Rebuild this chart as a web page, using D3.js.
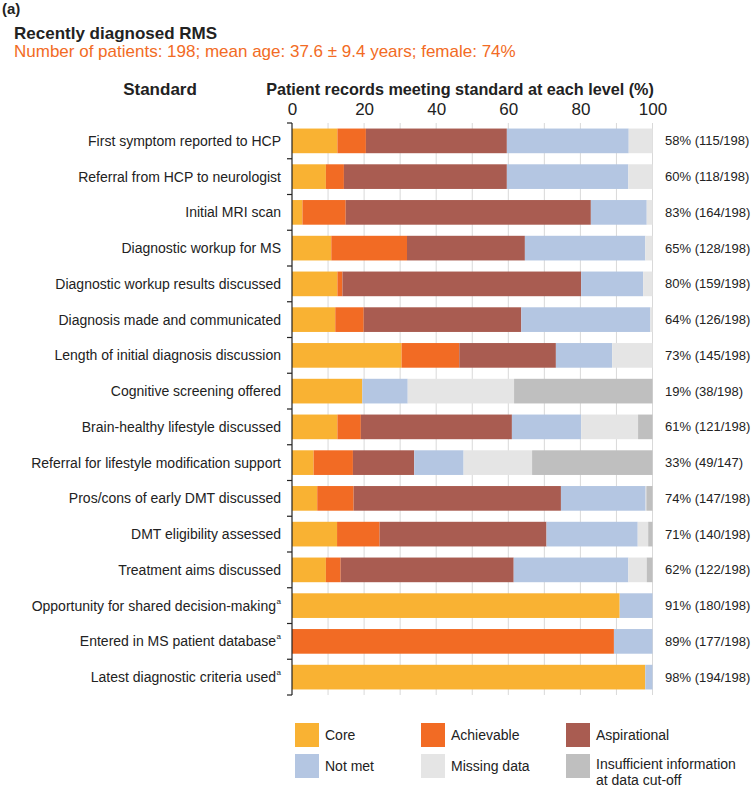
<!DOCTYPE html>
<html>
<head>
<meta charset="utf-8">
<script src="https://cdn.jsdelivr.net/npm/d3@7"></script>
<style>
  body { margin: 0; background: #fff; }
  svg { font-family: "Liberation Sans", Arial, sans-serif; }
</style>
</head>
<body>
<svg id="chart" width="755" height="787"></svg>
<script>
// standards, top to bottom (last three carry a superscript "a")
const standards = [
    "First symptom reported to HCP",
    "Referral from HCP to neurologist",
    "Initial MRI scan",
    "Diagnostic workup for MS",
    "Diagnostic workup results discussed",
    "Diagnosis made and communicated",
    "Length of initial diagnosis discussion",
    "Cognitive screening offered",
    "Brain-healthy lifestyle discussed",
    "Referral for lifestyle modification support",
    "Pros/cons of early DMT discussed",
    "DMT eligibility assessed",
    "Treatment aims discussed",
    "Opportunity for shared decision-making",
    "Entered in MS patient database",
    "Latest diagnostic criteria used"
];
const footnoted = [false, false, false, false, false, false, false, false, false, false, false, false, false, true, true, true];

// percentages per level
const core         = [12.6, 9.4, 2.9, 10.9, 12.6, 12.0, 30.4, 19.5, 12.6, 6.0, 7.0, 12.5, 9.4, 90.9, 0, 98.0];
const achievable   = [7.9, 5.0, 12.0, 21.0, 1.4, 7.9, 16.0, 0, 6.5, 10.9, 10.1, 11.8, 4.1, 0, 89.3, 0];
const aspirational = [39.1, 45.2, 68.0, 32.7, 66.2, 43.7, 26.8, 0, 41.9, 17.0, 57.5, 46.3, 48.0, 0, 0, 0];
const notMet       = [33.8, 33.7, 15.5, 33.4, 17.2, 35.8, 15.6, 12.6, 19.2, 13.7, 23.5, 25.3, 31.8, 9.1, 10.7, 2.0];
const missing      = [6.6, 6.7, 1.6, 2.0, 2.6, 0.6, 11.2, 29.5, 15.8, 19.0, 0.2, 2.9, 5.1, 0, 0, 0];
const insufficient = [0, 0, 0, 0, 0, 0, 0, 38.4, 4.0, 33.4, 1.7, 1.2, 1.6, 0, 0, 0];

const metLabels = [
    "58% (115/198)", "60% (118/198)", "83% (164/198)", "65% (128/198)",
    "80% (159/198)", "64% (126/198)", "73% (145/198)", "19% (38/198)",
    "61% (121/198)", "33% (49/147)", "74% (147/198)", "71% (140/198)",
    "62% (122/198)", "91% (180/198)", "89% (177/198)", "98% (194/198)"
];

const levelKeys = ["core", "achievable", "aspirational", "notMet", "missing", "insufficient"];
const levelNames = ["Core", "Achievable", "Aspirational", "Not met", "Missing data", "Insufficient information"];
const levelColors = ["#f9b233", "#f26b24", "#a95c51", "#b4c6e2", "#e5e5e5", "#bfbfbf"];
const xTicks = [0, 20, 40, 60, 80, 100];

const rows = standards.map((s, i) => ({
    standard: s,
    core: core[i],
    achievable: achievable[i],
    aspirational: aspirational[i],
    notMet: notMet[i],
    missing: missing[i],
    insufficient: insufficient[i]
}));

const svg = d3.select("#chart");

const x = d3.scaleLinear().domain([0, 100]).range([292, 652.5]);
const y = d3.scaleBand().domain(standards).range([123, 695])
    .paddingInner(0.31).paddingOuter(0.155);
const color = d3.scaleOrdinal().domain(levelKeys).range(levelColors);

// headings
svg.append("text").attr("x", 2).attr("y", 14)
    .attr("font-size", 15).attr("font-weight", "bold").attr("fill", "#222").text("(a)");
svg.append("text").attr("x", 14).attr("y", 39)
    .attr("font-size", 17).attr("font-weight", "bold").attr("fill", "#222").text("Recently diagnosed RMS");
svg.append("text").attr("x", 14).attr("y", 57)
    .attr("font-size", 17).attr("fill", "#f26b24")
    .text("Number of patients: 198; mean age: 37.6 \u00b1 9.4 years; female: 74%");
svg.append("text").attr("x", 160).attr("y", 95).attr("text-anchor", "middle")
    .attr("font-size", 17).attr("font-weight", "bold").attr("fill", "#222").text("Standard");
svg.append("text").attr("x", 460).attr("y", 95).attr("text-anchor", "middle")
    .attr("font-size", 16.2).attr("font-weight", "bold").attr("fill", "#222")
    .text("Patient records meeting standard at each level (%)");

// gridlines
svg.append("g").selectAll("line")
    .data(d3.range(10, 101, 10))
    .join("line")
    .attr("x1", d => x(d)).attr("x2", d => x(d))
    .attr("y1", 123).attr("y2", 695)
    .attr("stroke", "#d9d9d9").attr("stroke-width", 1);

// top axis labels
const xAxis = svg.append("g")
    .attr("transform", "translate(0,123)")
    .call(d3.axisTop(x).tickValues(xTicks).tickSize(0).tickPadding(8));
xAxis.select(".domain").remove();
xAxis.selectAll("text").attr("font-size", 17).attr("fill", "#222")
    .attr("font-family", "Liberation Sans, Arial, sans-serif");

// stacked bars
const series = d3.stack().keys(levelKeys)(rows);
svg.append("g").selectAll("g")
    .data(series)
    .join("g")
    .attr("fill", d => color(d.key))
    .selectAll("rect")
    .data(d => d)
    .join("rect")
    .attr("x", d => x(d[0]))
    .attr("y", d => y(d.data.standard))
    .attr("width", d => Math.max(0, x(d[1]) - x(d[0])))
    .attr("height", y.bandwidth());

// left axis line with ticks at band edges
const edges = standards.map(s => y(s) - y.step() * y.paddingInner() / 2);
edges.push(695);
svg.append("line").attr("x1", 292).attr("x2", 292).attr("y1", 123).attr("y2", 695)
    .attr("stroke", "#222").attr("stroke-width", 1.2);
svg.append("g").selectAll("line")
    .data(edges)
    .join("line")
    .attr("x1", 287).attr("x2", 292)
    .attr("y1", d => d).attr("y2", d => d)
    .attr("stroke", "#222").attr("stroke-width", 1.2);

// category labels
svg.append("g").selectAll("text")
    .data(standards)
    .join("text")
    .attr("x", (d, i) => footnoted[i] ? 276 : 281)
    .attr("y", d => y(d) + y.bandwidth() / 2)
    .attr("dy", "0.35em")
    .attr("text-anchor", "end")
    .attr("font-size", 14)
    .attr("fill", "#222")
    .text(d => d);
svg.append("g").selectAll("text")
    .data(standards.filter((d, i) => footnoted[i]))
    .join("text")
    .attr("x", 276.5)
    .attr("y", d => y(d) + y.bandwidth() / 2 - 2)
    .attr("font-size", 8)
    .attr("fill", "#222")
    .text("a");

// met labels on right
svg.append("g").selectAll("text")
    .data(metLabels)
    .join("text")
    .attr("x", 665)
    .attr("y", (d, i) => y(standards[i]) + y.bandwidth() / 2)
    .attr("dy", "0.35em")
    .attr("font-size", 13)
    .attr("fill", "#222")
    .text(d => d);

// legend
const legendX = [295, 421, 566];
const legendY = [723, 754];
const legend = svg.append("g").selectAll("g")
    .data(levelKeys)
    .join("g")
    .attr("transform", (d, i) => `translate(${legendX[i % 3]},${legendY[Math.floor(i / 3)]})`);
legend.append("rect")
    .attr("width", 24).attr("height", 24)
    .attr("fill", d => color(d));
legend.append("text")
    .attr("x", 30).attr("y", (d, i) => i === 5 ? 15 : 17)
    .attr("font-size", 14).attr("fill", "#222")
    .text((d, i) => levelNames[i]);
legend.filter((d, i) => i === 5).append("text")
    .attr("x", 30).attr("y", 31)
    .attr("font-size", 14).attr("fill", "#222")
    .text("at data cut-off");
</script>
</body>
</html>
